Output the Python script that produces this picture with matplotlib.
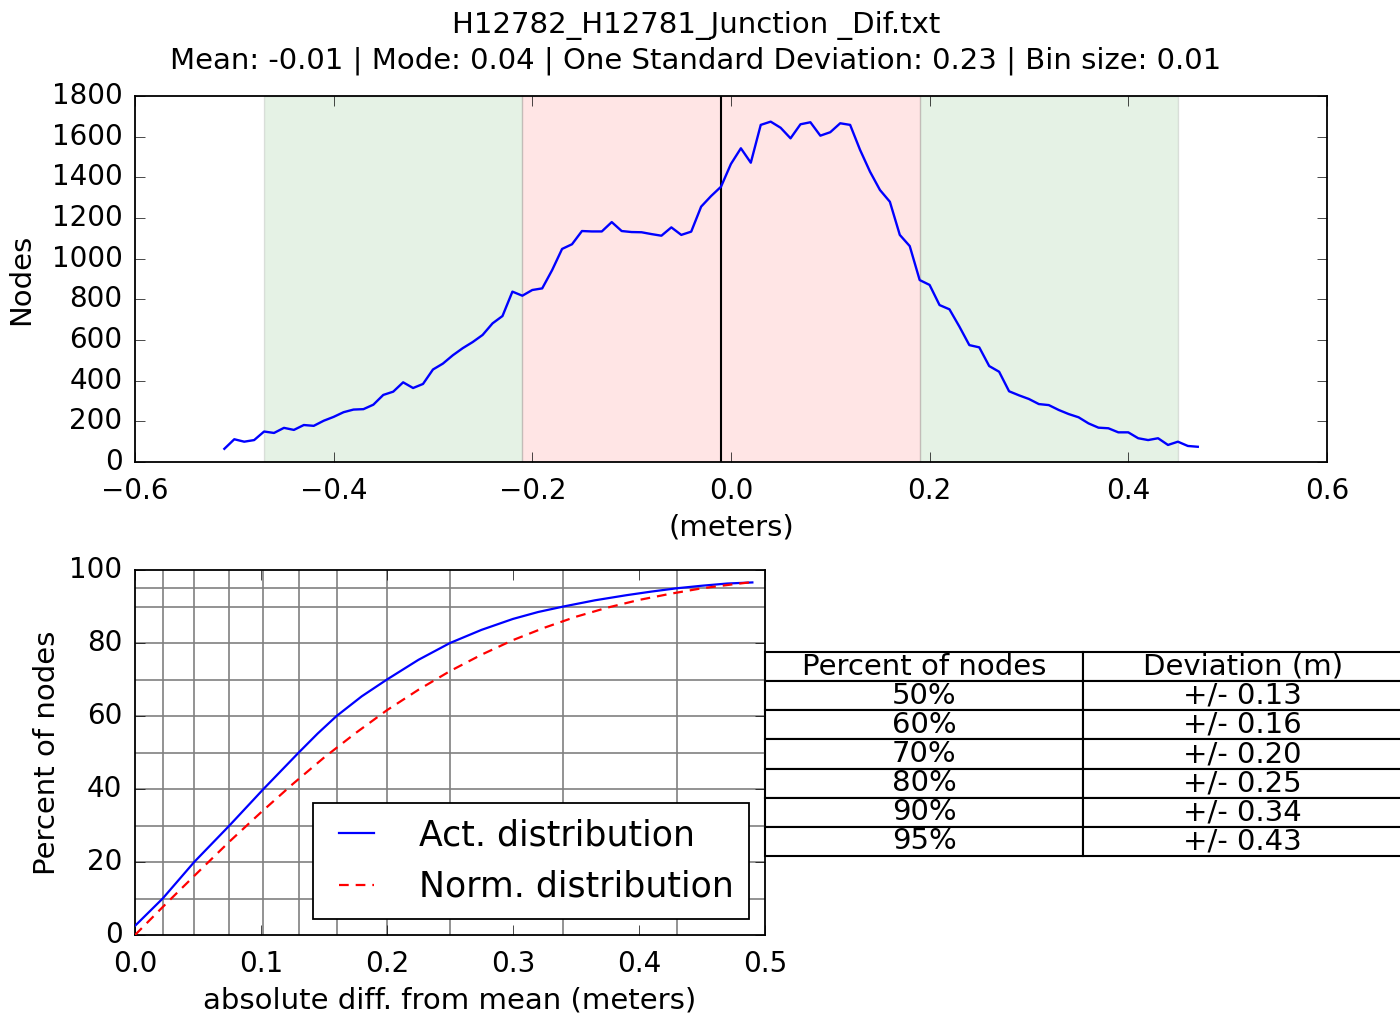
import numpy as np
import matplotlib
matplotlib.use("Agg")
import matplotlib.pyplot as plt

plt.style.use("classic")
plt.rcParams["font.family"] = ["DejaVu Sans"]
plt.rcParams["axes.linewidth"] = 1.3
plt.rcParams["xtick.major.size"] = 7
plt.rcParams["ytick.major.size"] = 7

# histogram of depth differences (bin size 0.01 m)
bin_centers = np.round(np.arange(-0.51, 0.475, 0.01), 2)
node_counts = [
    65, 112, 100, 108, 150, 143, 168, 158, 182, 178,
    203, 222, 245, 258, 260, 282, 330, 346, 392, 364,
    384, 455, 484, 525, 560, 590, 625, 682, 718, 838,
    818, 846, 854, 944, 1048, 1071, 1136, 1134, 1134, 1180,
    1136, 1131, 1130, 1121, 1113, 1154, 1117, 1133, 1256, 1308,
    1354, 1466, 1543, 1472, 1658, 1674, 1644, 1592, 1661, 1671,
    1605, 1622, 1666, 1658, 1535, 1428, 1338, 1280, 1117, 1062,
    895, 871, 772, 751, 666, 575, 564, 472, 444, 348,
    328, 310, 285, 280, 256, 236, 220, 190, 169, 166,
    146, 146, 117, 108, 117, 84, 100, 79, 75,
]
mean_val = -0.01
inner_band = (-0.21, 0.19)
outer_band = (-0.47, 0.45)

# cumulative percent of nodes vs absolute difference from mean
act_x = [0.0, 0.022, 0.047, 0.075, 0.102, 0.13, 0.145, 0.16, 0.18, 0.20,
         0.225, 0.25, 0.275, 0.30, 0.32, 0.34, 0.365, 0.39, 0.41, 0.43,
         0.45, 0.47, 0.49]
act_y = [2.5, 10, 20, 30, 40, 50, 55.2, 60, 65.4, 70,
         75.4, 80, 83.6, 86.6, 88.5, 90, 91.7, 93.1, 94.1, 95,
         95.7, 96.3, 96.6]
norm_x = [0.0, 0.025, 0.05, 0.075, 0.1, 0.125, 0.15, 0.175, 0.2, 0.225,
          0.25, 0.275, 0.3, 0.325, 0.35, 0.375, 0.4, 0.425, 0.45, 0.475, 0.49]
norm_y = [0.0, 8.7, 17.2, 25.6, 33.6, 41.3, 48.6, 55.3, 61.6, 67.2,
          72.3, 76.8, 80.8, 84.2, 87.2, 89.7, 91.8, 93.5, 95.0, 96.1, 96.7]

pct_levels = [10, 20, 30, 40, 50, 60, 70, 80, 90, 95]
dev_levels = [0.022, 0.047, 0.075, 0.102, 0.13, 0.16, 0.20, 0.25, 0.34, 0.43]

fig = plt.figure(figsize=(14, 10.15), dpi=100, facecolor="white")

fig.text(0.497, 0.975, "H12782_H12781_Junction _Dif.txt",
         ha="center", va="center", fontsize=21)
fig.text(0.497, 0.940,
         "Mean: -0.01 | Mode: 0.04 | One Standard Deviation: 0.23 | Bin size: 0.01",
         ha="center", va="center", fontsize=21)

# --- histogram ---
ax1 = fig.add_axes([0.0964, 0.5448, 0.8514, 0.3606])
ax1.axvspan(outer_band[0], inner_band[0], facecolor="green", alpha=0.1)
ax1.axvspan(inner_band[1], outer_band[1], facecolor="green", alpha=0.1)
ax1.axvspan(inner_band[0], inner_band[1], facecolor="red", alpha=0.1)
ax1.axvline(mean_val, color="k", lw=1.5)
ax1.plot(bin_centers, node_counts, color="b", lw=1.7)
ax1.set_xlim(-0.6, 0.6)
ax1.set_ylim(0, 1800)
ax1.set_xticks(np.arange(-0.6, 0.61, 0.2))
ax1.set_yticks(np.arange(0, 1801, 200))
ax1.tick_params(labelsize=20)
ax1.tick_params(axis="x", pad=11)
ax1.tick_params(axis="y", pad=9)
ax1.set_xlabel("(meters)", fontsize=21, labelpad=6)
ax1.set_ylabel("Nodes", fontsize=21, labelpad=12)

# --- cumulative distribution ---
ax2 = fig.add_axes([0.0964, 0.0788, 0.45, 0.3596])
for p in pct_levels:
    ax2.axhline(p, color="0.5", lw=1.2, zorder=1)
for d in dev_levels:
    ax2.axvline(d, color="0.5", lw=1.2, zorder=1)
ax2.plot(act_x, act_y, color="b", lw=1.6, label="Act. distribution", zorder=3)
ax2.plot(norm_x, norm_y, color="r", lw=1.6, ls="--", dashes=(7, 5),
         label="Norm. distribution", zorder=3)
ax2.set_xlim(0, 0.5)
ax2.set_ylim(0, 100)
ax2.set_xticks(np.arange(0, 0.51, 0.1))
ax2.set_yticks(np.arange(0, 101, 20))
ax2.tick_params(labelsize=20)
ax2.tick_params(axis="x", pad=11)
ax2.tick_params(axis="y", pad=9)
ax2.set_xlabel("absolute diff. from mean (meters)", fontsize=21, labelpad=6)
ax2.set_ylabel("Percent of nodes", fontsize=21, labelpad=6)
leg = ax2.legend(loc="lower right", fontsize=25, handlelength=1.6,
                 borderaxespad=0.45, handletextpad=1.0, borderpad=0.45)
leg.get_frame().set_linewidth(1.3)

# percentile table
table_rows = [[f"{p}%", f"+/- {d:.2f}"] for p, d in zip(pct_levels[4:], dev_levels[4:])]
tbl = ax2.table(cellText=table_rows,
                colLabels=["Percent of nodes", "Deviation (m)"],
                cellLoc="center", bbox=[1.0, 0.2164, 1.011, 0.5589])
tbl.auto_set_font_size(False)
tbl.set_fontsize(21)
for cell in tbl.get_celld().values():
    cell.set_linewidth(1.5)
    cell.set_edgecolor("black")

fig.savefig("out.png", dpi=100, facecolor="white")
